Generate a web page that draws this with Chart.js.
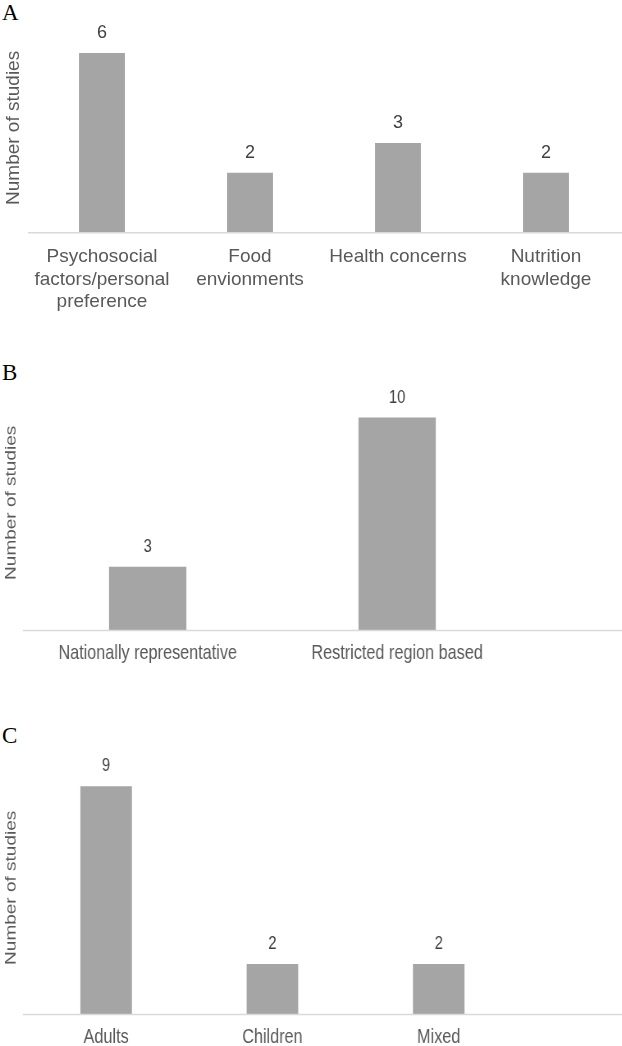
<!DOCTYPE html>
<html>
<head>
<meta charset="utf-8">
<script src="https://cdn.jsdelivr.net/npm/chart.js@4.4.0/dist/chart.umd.min.js"></script>
<style>
  html, body { margin: 0; padding: 0; background: #fff; }
  body { width: 622px; height: 1046px; overflow: hidden; position: relative; }
  .panel { position: absolute; left: 0; transform-origin: 0 0; }
  .letter { position: absolute; left: 2px; font-family: "Liberation Serif", "Times New Roman", serif; font-size: 23px; color: #000; line-height: 1; }
</style>
</head>
<body>
<div class="letter" style="top:1px">A</div>
<div class="letter" style="top:361px">B</div>
<div class="letter" style="top:724px">C</div>
<div class="panel" style="top:0px;width:622px;height:326px"><canvas id="chartA"></canvas></div>
<!-- B and C are squeezed sideways in the original figure -->
<div class="panel" style="top:360px;width:758px;height:317px;transform:scaleX(0.8205)"><canvas id="chartB"></canvas></div>
<div class="panel" style="top:720px;width:758px;height:341px;transform:scaleX(0.8205)"><canvas id="chartC"></canvas></div>
<script>
// panel A - factors
const labelsA = [['Psychosocial', 'factors/personal', 'preference'], ['Food', 'envionments'], ['Health concerns'], ['Nutrition', 'knowledge']];
const valuesA = [6, 2, 3, 2];
// panel B - sample
const labelsB = ['Nationally representative', 'Restricted region based'];
const valuesB = [3, 10];
// panel C - population
const labelsC = ['Adults', 'Children', 'Mixed'];
const valuesC = [9, 2, 2];

const yTitle = 'Number of studies';
const textGrey = '#595959';
const barGrey = '#a5a5a5';
const fontFam = '"Liberation Sans", Arial, sans-serif';

// value above each bar + baseline running to the right edge
const barExtras = {
  id: 'barExtras',
  afterDatasetsDraw(chart) {
    const c = chart.ctx;
    const area = chart.chartArea;
    const y0 = chart.scales.y.getPixelForValue(0);
    c.save();
    c.strokeStyle = '#d9d9d9';
    c.lineWidth = 1.5;
    c.beginPath();
    c.moveTo(area.left, y0);
    c.lineTo(chart.width, y0);
    c.stroke();

    c.fillStyle = '#404040';
    c.font = '18px ' + fontFam;
    c.textAlign = 'center';
    c.textBaseline = 'middle';
    const meta = chart.getDatasetMeta(0);
    const vals = chart.data.datasets[0].data;
    meta.data.forEach(function(bar, i) {
      c.fillText(String(vals[i]), bar.x, bar.y - 20);
    });
    c.restore();
  }
};

function makeChart(id, labels, values, yMax, pad, tickPad, tickSize) {
  return new Chart(document.getElementById(id), {
    type: 'bar',
    data: {
      labels: labels,
      datasets: [{
        data: values,
        backgroundColor: barGrey,
        borderWidth: 0,
        barPercentage: 0.31,
        categoryPercentage: 1
      }]
    },
    options: {
      responsive: true,
      maintainAspectRatio: false,
      animation: false,
      layout: { padding: pad },
      plugins: { legend: { display: false }, tooltip: { enabled: false } },
      scales: {
        x: {
          grid: { display: false, drawTicks: false },
          border: { display: false },
          ticks: {
            color: textGrey,
            font: { family: fontFam, size: tickSize, lineHeight: 22.4 / tickSize },
            padding: tickPad,
            maxRotation: 0,
            autoSkip: false
          }
        },
        y: {
          min: 0,
          max: yMax,
          grid: { display: false, drawTicks: false },
          border: { display: false },
          ticks: { display: false },
          title: {
            display: true,
            text: yTitle,
            color: textGrey,
            font: { family: fontFam, size: 19, lineHeight: 1.2 },
            padding: { top: 2.6, bottom: 2.6 }
          }
        }
      }
    },
    plugins: [barExtras]
  });
}

makeChart('chartA', labelsA, valuesA, 7, { top: 23, right: 2, bottom: 0, left: 0 }, 13, 19);
makeChart('chartB', labelsB, valuesB, 12, { top: 15, right: 122, bottom: 0, left: 0 }, 12, 19.8);
makeChart('chartC', labelsC, valuesC, 10, { top: 41, right: 122, bottom: 0, left: 0 }, 12, 19.8);
</script>
</body>
</html>
